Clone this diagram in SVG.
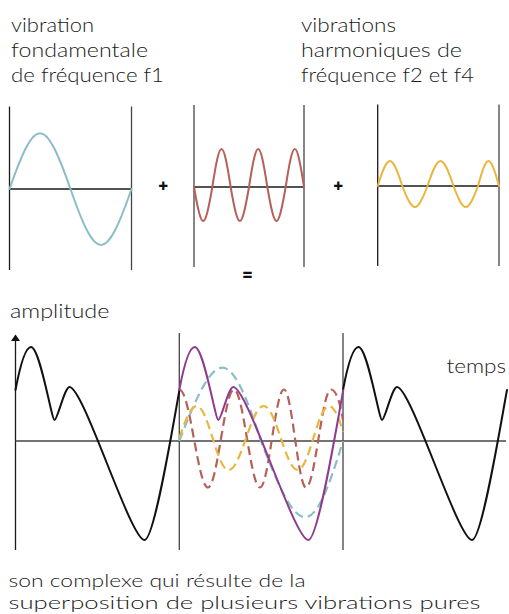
<svg xmlns="http://www.w3.org/2000/svg" xmlns:xlink="http://www.w3.org/1999/xlink" width="509" height="614" viewBox="0 0 509 614">
<style>
.lbl{font-family:Lato,"Open Sans","Liberation Sans",sans-serif;font-weight:300;font-size:20px;fill:#1a1a1a}
.cap{font-size:18.4px}
.op{font-family:"Open Sans","Liberation Sans",sans-serif;font-weight:800;font-size:17px;fill:#111;text-anchor:middle}
.ax{stroke:#1a1a1a;stroke-width:1.3;fill:none}
.ax2{stroke:#444;stroke-width:1.3;fill:none}
.w{fill:none;stroke-width:2;stroke-linecap:round;stroke-linejoin:round}
.d{fill:none;stroke-width:2.2;stroke-dasharray:9 5}
.blue{stroke:#8bbdc9}
.red{stroke:#b6605a}
.yel{stroke:#e9b73e}
.pur{stroke:#8e3b8f}
.blk{stroke:#111}
</style>
<defs>
<path id="cyc" d="M0,390 C4,368.8 9.5,347 15.5,347 C24.5,347 36,420 39,420 C42,420 49,387 54,387 C68,387 115,540 129,540 C139,540 158,421.8 164,390"/>
</defs>

<g id="label-fondamentale">
<text class="lbl" x="11" y="31.5" textLength="83" lengthAdjust="spacingAndGlyphs">vibration</text>
<text class="lbl" x="11" y="56.5" textLength="137" lengthAdjust="spacingAndGlyphs">fondamentale</text>
<text class="lbl" x="11" y="81.5" textLength="153" lengthAdjust="spacingAndGlyphs">de fréquence f1</text>
</g>
<g id="label-harmoniques">
<text class="lbl" x="301" y="31.5" textLength="95" lengthAdjust="spacingAndGlyphs">vibrations</text>
<text class="lbl" x="301" y="56.5" textLength="161" lengthAdjust="spacingAndGlyphs">harmoniques de</text>
<text class="lbl" x="301" y="81.5" textLength="173" lengthAdjust="spacingAndGlyphs">fréquence f2 et f4</text>
</g>

<g id="panel-f1">
<line class="ax" x1="9.5" y1="106.5" x2="9.5" y2="270"/>
<line class="ax2" x1="131.5" y1="106.5" x2="131.5" y2="270"/>
<line class="ax" x1="9.5" y1="189" x2="131.5" y2="189"/>
<path class="w blue" d="M9.5,189 C35.4,114.7 44.6,114.7 70.5,189 C96.4,263.7 105.6,263.7 131.5,189"/>
</g>
<text class="op" x="163.3" y="191.5">+</text>
<g id="panel-f2">
<line class="ax2" x1="194" y1="105" x2="194" y2="267"/>
<line class="ax2" x1="304" y1="105" x2="304" y2="267"/>
<line class="ax" x1="194" y1="187" x2="304" y2="187"/>
<path class="w red" d="M194,187 C201.78,232.3 204.55,232.3 212.33,187 C220.11,136.3 222.88,136.3 230.67,187 C238.45,232.3 241.22,232.3 249,187 C256.78,136.3 259.55,136.3 267.33,187 C275.11,232.3 277.88,232.3 285.67,187 C293.45,136.3 296.22,136.3 304,187"/>
</g>
<text class="op" x="338.3" y="191.5">+</text>
<g id="panel-f4">
<line class="ax" x1="377.7" y1="104.5" x2="377.7" y2="266"/>
<line class="ax2" x1="499" y1="104.5" x2="499" y2="266"/>
<line class="ax" x1="377.7" y1="186" x2="499" y2="186"/>
<path class="w yel" d="M377.7,186 C388,152.7 391.7,152.7 402.3,186 C413,214 416.8,214 427.5,186 C438.5,152.7 442.5,152.7 453.5,186 C463.9,214 467.6,214 478,186 C487,152.7 490,152.7 499,186"/>
</g>
<text class="op" x="247.5" y="280.5">=</text>

<g id="graph">
<text class="lbl" x="10" y="318" textLength="99.5" lengthAdjust="spacingAndGlyphs">amplitude</text>
<text class="lbl" x="446.5" y="373" textLength="59.5" lengthAdjust="spacingAndGlyphs">temps</text>
<line class="ax" x1="15.5" y1="339" x2="15.5" y2="550"/>
<polygon points="15.5,334.5 11,341 20,341" fill="#111"/>
<line class="ax2" x1="15.5" y1="441" x2="506" y2="441"/>
<line class="ax2" x1="179.3" y1="333" x2="179.3" y2="550"/>
<line class="ax2" x1="343" y1="333" x2="343" y2="550"/>
<use xlink:href="#cyc" x="15.5" class="w blk"/>
<use xlink:href="#cyc" x="343" class="w blk"/>
<path class="d blue" d="M179.3,441 C216.8,343.3 229.2,343.3 261,441 C299.8,542.7 312.2,542.7 343,441"/>
<path class="d red" d="M179.3,389.5 C190.2,389.5 197.8,487.5 208,487.5 C217.45,487.5 224.55,389.5 234,389.5 C243.45,389.5 250.55,487.5 260,487.5 C268.72,487.5 275.28,389.5 284,389.5 C292,389.5 298,487.5 306,487.5 C315.09,487.5 321.91,389.5 331,389.5 C336,389.5 340,402 343,420"/>
<path class="d yel" d="M179.3,438 C184.97,421.6 190.4,406 196.7,406 C208.26,406 216.94,470 228.5,470 C241.29,470 250.91,406 263.7,406 C276.09,406 285.41,470 297.8,470 C309.14,470 317.66,406 329,406 C334,406 339,418 343,432"/>
<use xlink:href="#cyc" x="179.3" class="w pur"/>
</g>

<g id="caption">
<text class="lbl cap" x="8.5" y="586.5" textLength="297" lengthAdjust="spacingAndGlyphs">son complexe qui résulte de la</text>
<text class="lbl cap" x="8.5" y="608.5" textLength="472" lengthAdjust="spacingAndGlyphs">superposition de plusieurs vibrations pures</text>
</g>
<g id="connectors"/>
</svg>
